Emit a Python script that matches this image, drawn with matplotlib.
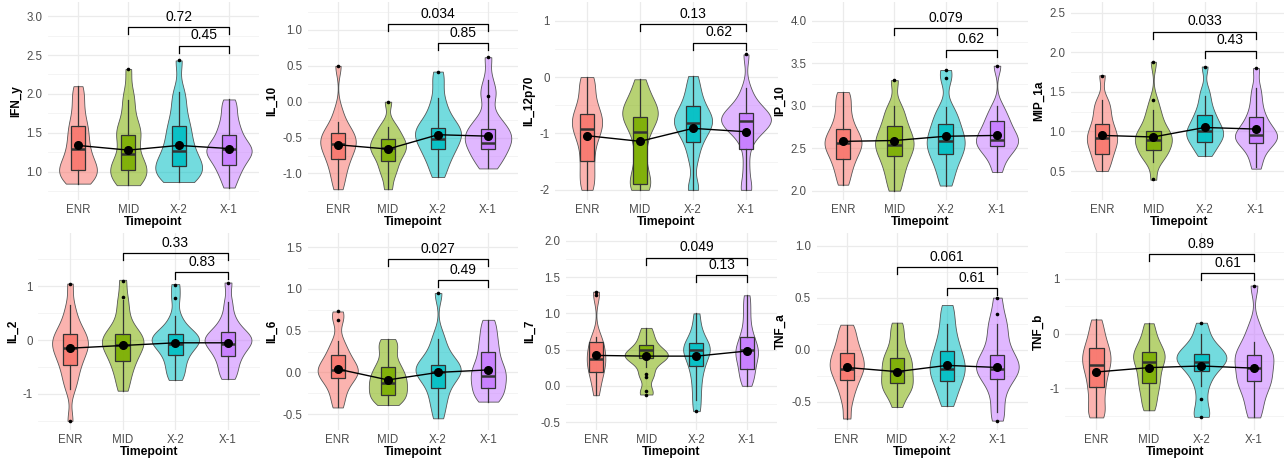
import numpy as np
import matplotlib
matplotlib.use('Agg')
import matplotlib.pyplot as plt
from matplotlib.colors import to_rgba

plt.rcParams['font.family'] = ['Liberation Sans', 'DejaVu Sans']
plt.rcParams['axes.unicode_minus'] = False

# ---------------- data ----------------
groups = ['ENR', 'MID', 'X-2', 'X-1']
colors = ['#F8766D', '#7CAE00', '#00BFC4', '#C77CFF']
panel_names = ['IFN_y', 'IL_10', 'IL_12p70', 'IP_10', 'MIP_1a',
               'IL_2', 'IL_6', 'IL_7', 'TNF_a', 'TNF_b']

# hand-estimated sample values (shape of each violin)
ifn_y_vals = [
    [0.85, 0.88, 0.92, 0.96, 1.0, 1.03, 1.06, 1.1, 1.15, 1.2, 1.27, 1.33, 1.4, 1.48, 1.55, 1.62, 1.72, 1.85, 1.98, 2.1],
    [0.83, 0.87, 0.92, 0.96, 1.0, 1.04, 1.08, 1.12, 1.18, 1.25, 1.38, 1.45, 1.5, 1.55, 1.62, 1.75, 1.9, 2.02, 2.32],
    [0.87, 0.9, 0.94, 0.98, 1.02, 1.05, 1.08, 1.12, 1.17, 1.22, 1.28, 1.35, 1.42, 1.5, 1.58, 1.65, 1.78, 1.92, 2.05, 2.43],
    [0.8, 0.92, 1.0, 1.06, 1.12, 1.17, 1.21, 1.24, 1.27, 1.3, 1.33, 1.37, 1.42, 1.48, 1.55, 1.62, 1.72, 1.83, 1.93]]
il_10_vals = [
    [-1.22, -1.08, -0.97, -0.88, -0.8, -0.74, -0.68, -0.63, -0.59, -0.55, -0.51, -0.47, -0.42, -0.36, -0.28, -0.12, 0.5],
    [-1.22, -1.05, -0.95, -0.88, -0.8, -0.74, -0.7, -0.66, -0.62, -0.58, -0.55, -0.5, -0.44, -0.38, -0.3, 0.0],
    [-1.05, -0.92, -0.82, -0.74, -0.68, -0.62, -0.57, -0.52, -0.48, -0.44, -0.4, -0.36, -0.32, -0.26, -0.18, -0.08, 0.05, 0.25, 0.42],
    [-0.93, -0.85, -0.78, -0.72, -0.67, -0.62, -0.57, -0.53, -0.5, -0.46, -0.42, -0.38, -0.33, -0.26, -0.18, 0.08, 0.12, 0.3, 0.62]]
il_12p70_vals = [
    [-2.0, -1.9, -1.75, -1.6, -1.45, -1.3, -1.15, -1.05, -0.97, -0.9, -0.84, -0.78, -0.72, -0.66, -0.58, -0.48, -0.35, -0.2, -0.05, 0.0],
    [-2.0, -1.95, -1.88, -1.78, -1.6, -1.4, -1.2, -1.0, -0.9, -0.8, -0.73, -0.68, -0.63, -0.58, -0.52, -0.45, -0.35, -0.2, -0.04],
    [-2.0, -1.95, -1.5, -1.3, -1.15, -1.05, -0.97, -0.9, -0.85, -0.8, -0.76, -0.72, -0.67, -0.6, -0.52, -0.42, -0.3, -0.15, 0.02],
    [-2.0, -1.95, -1.6, -1.25, -1.05, -0.95, -0.9, -0.86, -0.82, -0.79, -0.76, -0.73, -0.7, -0.67, -0.63, -0.58, -0.5, -0.38, -0.2, 0.4]]
ip_10_vals = [
    [2.07, 2.18, 2.27, 2.34, 2.4, 2.45, 2.5, 2.53, 2.56, 2.6, 2.64, 2.68, 2.73, 2.8, 2.88, 2.98, 3.08, 3.16],
    [2.0, 2.12, 2.22, 2.3, 2.37, 2.43, 2.48, 2.52, 2.56, 2.6, 2.65, 2.7, 2.76, 2.83, 2.92, 3.0, 3.3],
    [2.06, 2.18, 2.28, 2.36, 2.42, 2.47, 2.52, 2.56, 2.6, 2.65, 2.7, 2.76, 2.83, 2.9, 2.98, 3.32, 3.42],
    [2.22, 2.35, 2.43, 2.48, 2.52, 2.55, 2.58, 2.61, 2.64, 2.68, 2.73, 2.78, 2.84, 2.9, 3.0, 3.47]]
mip_1a_vals = [
    [0.5, 0.58, 0.66, 0.72, 0.78, 0.83, 0.87, 0.91, 0.95, 0.99, 1.04, 1.1, 1.17, 1.25, 1.33, 1.4, 1.71],
    [0.39, 0.62, 0.68, 0.72, 0.76, 0.8, 0.85, 0.88, 0.91, 0.94, 0.97, 1.0, 1.05, 1.12, 1.2, 1.27, 1.4, 1.88],
    [0.69, 0.76, 0.82, 0.87, 0.91, 0.94, 0.97, 1.0, 1.03, 1.07, 1.12, 1.17, 1.22, 1.3, 1.4, 1.52, 1.82],
    [0.53, 0.65, 0.75, 0.82, 0.86, 0.89, 0.92, 0.94, 0.96, 0.99, 1.03, 1.08, 1.14, 1.2, 1.3, 1.42, 1.55, 1.8]]
il_2_vals = [
    [-1.5, -0.9, -0.75, -0.6, -0.48, -0.38, -0.3, -0.22, -0.15, -0.1, -0.05, 0.0, 0.06, 0.12, 0.2, 0.3, 0.45, 0.65, 1.05],
    [-0.94, -0.75, -0.6, -0.48, -0.38, -0.3, -0.22, -0.15, -0.1, -0.05, 0.0, 0.05, 0.1, 0.16, 0.25, 0.4, 0.6, 0.8, 1.12],
    [-0.74, -0.62, -0.5, -0.38, -0.28, -0.2, -0.12, -0.07, -0.03, 0.0, 0.04, 0.08, 0.12, 0.18, 0.28, 0.45, 0.78, 1.04],
    [-0.72, -0.6, -0.48, -0.36, -0.28, -0.2, -0.13, -0.07, -0.03, 0.0, 0.04, 0.08, 0.13, 0.2, 0.3, 0.45, 0.7, 1.07]]
il_6_vals = [
    [-0.42, -0.3, -0.2, -0.12, -0.07, -0.03, 0.0, 0.03, 0.06, 0.1, 0.15, 0.21, 0.28, 0.38, 0.63, 0.73],
    [-0.39, -0.34, -0.3, -0.26, -0.22, -0.18, -0.14, -0.1, -0.06, -0.02, 0.03, 0.08, 0.15, 0.25, 0.33, 0.4],
    [-0.55, -0.4, -0.3, -0.2, -0.12, -0.06, -0.02, 0.01, 0.04, 0.07, 0.1, 0.15, 0.22, 0.32, 0.45, 0.95],
    [-0.35, -0.3, -0.24, -0.19, -0.14, -0.09, -0.04, 0.0, 0.05, 0.1, 0.17, 0.25, 0.33, 0.42, 0.52, 0.63]]
il_7_vals = [
    [-0.13, 0.0, 0.1, 0.17, 0.22, 0.28, 0.33, 0.37, 0.41, 0.46, 0.52, 0.58, 0.63, 0.7, 1.25, 1.3],
    [-0.12, -0.07, 0.12, 0.17, 0.28, 0.34, 0.38, 0.4, 0.42, 0.44, 0.46, 0.5, 0.55, 0.62, 0.7, 0.8],
    [-0.35, -0.2, -0.05, 0.08, 0.2, 0.28, 0.35, 0.42, 0.47, 0.5, 0.53, 0.57, 0.62, 0.7, 0.82, 1.0],
    [0.0, 0.08, 0.15, 0.22, 0.28, 0.35, 0.4, 0.44, 0.48, 0.52, 0.57, 0.63, 0.7, 0.8, 0.95, 1.1, 1.25]]
tnf_a_vals = [
    [-0.66, -0.5, -0.4, -0.33, -0.28, -0.23, -0.19, -0.16, -0.13, -0.09, -0.05, -0.01, 0.04, 0.1, 0.17, 0.24],
    [-0.55, -0.45, -0.4, -0.36, -0.33, -0.29, -0.25, -0.21, -0.17, -0.13, -0.09, -0.05, 0.0, 0.08, 0.17, 0.26],
    [-0.54, -0.44, -0.37, -0.31, -0.26, -0.22, -0.18, -0.14, -0.1, -0.05, 0.0, 0.06, 0.13, 0.22, 0.32, 0.43],
    [-0.68, -0.58, -0.45, -0.35, -0.28, -0.24, -0.21, -0.18, -0.15, -0.12, -0.08, -0.04, 0.02, 0.1, 0.18, 0.25, 0.34, 0.5]]
tnf_b_vals = [
    [-1.53, -1.45, -1.3, -1.12, -0.98, -0.85, -0.72, -0.62, -0.54, -0.46, -0.38, -0.3, -0.2, -0.08, 0.08, 0.26],
    [-1.4, -1.25, -1.1, -0.98, -0.88, -0.78, -0.68, -0.58, -0.5, -0.44, -0.38, -0.32, -0.24, -0.14, 0.0, 0.19],
    [-1.52, -1.45, -1.2, -0.95, -0.8, -0.68, -0.6, -0.54, -0.49, -0.45, -0.41, -0.37, -0.32, -0.25, -0.15, 0.0, 0.2],
    [-1.53, -1.35, -1.18, -1.02, -0.92, -0.86, -0.78, -0.68, -0.58, -0.5, -0.43, -0.37, -0.3, -0.2, -0.05, 0.15, 0.88]]

# box statistics: (whisker low, q1, median, q3, whisker high)
ifn_y_box = [(0.85, 1.03, 1.29, 1.59, 2.1), (0.83, 1.02, 1.23, 1.47, 1.92),
             (0.87, 1.08, 1.27, 1.59, 2.03), (0.8, 1.09, 1.29, 1.47, 1.93)]
il_10_box = [(-1.22, -0.8, -0.59, -0.44, -0.28), (-1.22, -0.82, -0.65, -0.52, -0.35),
             (-1.05, -0.66, -0.52, -0.36, 0.05), (-0.93, -0.66, -0.57, -0.38, 0.3)]
il_12p70_box = [(-2.0, -1.49, -0.92, -0.66, 0.0), (-2.0, -1.9, -0.97, -0.70, -0.04),
                (-2.0, -1.15, -0.82, -0.51, 0.02), (-2.0, -1.28, -0.78, -0.64, -0.2)]
ip_10_box = [(2.07, 2.37, 2.56, 2.73, 3.16), (2.0, 2.41, 2.54, 2.76, 3.0),
             (2.06, 2.43, 2.58, 2.78, 2.98), (2.22, 2.53, 2.6, 2.82, 3.0)]
mip_1a_box = [(0.5, 0.72, 0.92, 1.1, 1.4), (0.62, 0.76, 0.89, 1.0, 1.27),
              (0.69, 0.87, 1.0, 1.21, 1.45), (0.55, 0.85, 0.95, 1.18, 1.55)]
il_2_box = [(-0.9, -0.46, -0.15, 0.11, 0.65), (-0.94, -0.39, -0.1, 0.11, 0.75),
            (-0.74, -0.28, -0.07, 0.12, 0.45), (-0.72, -0.3, -0.07, 0.15, 0.7)]
il_6_box = [(-0.42, -0.07, 0.03, 0.21, 0.38), (-0.39, -0.27, -0.13, 0.07, 0.4),
            (-0.55, -0.19, 0.0, 0.09, 0.4), (-0.35, -0.19, -0.04, 0.25, 0.63)]
il_7_box = [(-0.13, 0.19, 0.37, 0.61, 0.67), (0.26, 0.39, 0.49, 0.56, 0.8),
            (-0.2, 0.28, 0.5, 0.59, 1.0), (0.0, 0.23, 0.5, 0.68, 1.25)]
tnf_a_box = [(-0.66, -0.29, -0.18, -0.03, 0.24), (-0.55, -0.32, -0.2, -0.08, 0.26),
             (-0.54, -0.3, -0.18, -0.01, 0.25), (-0.6, -0.28, -0.18, -0.05, 0.25)]
tnf_b_box = [(-1.53, -0.98, -0.57, -0.27, 0.26), (-1.4, -0.9, -0.51, -0.34, 0.19),
             (-0.95, -0.68, -0.51, -0.37, 0.0), (-1.53, -0.86, -0.63, -0.39, -0.15)]

# outlier points
ifn_y_out = [[], [2.32], [2.43], []]
il_10_out = [[0.5], [0.0], [0.42], [0.62, 0.08]]
il_12p70_out = [[], [], [], [0.4]]
ip_10_out = [[], [3.3], [3.42, 3.32], [3.47]]
mip_1a_out = [[1.7], [1.88, 1.4, 0.4], [1.82], [1.8]]
il_2_out = [[1.05, -1.5], [1.1, 0.8], [1.02, 0.78], [1.07]]
il_6_out = [[0.73, 0.63], [], [0.95], []]
il_7_out = [[1.3, 1.25], [0.17, 0.12, -0.07, -0.12], [-0.35], []]
tnf_a_out = [[], [], [], [0.5, 0.34, -0.68]]
tnf_b_out = [[], [], [-1.2, -1.52, 0.2], [0.88]]

# group means
ifn_y_mean = [1.34, 1.28, 1.34, 1.30]
il_10_mean = [-0.60, -0.66, -0.46, -0.48]
il_12p70_mean = [-1.04, -1.14, -0.91, -0.97]
ip_10_mean = [2.58, 2.59, 2.64, 2.65]
mip_1a_mean = [0.95, 0.93, 1.05, 1.03]
il_2_mean = [-0.15, -0.10, -0.05, -0.05]
il_6_mean = [0.04, -0.09, 0.0, 0.03]
il_7_mean = [0.42, 0.41, 0.41, 0.48]
tnf_a_mean = [-0.17, -0.21, -0.15, -0.17]
tnf_b_mean = [-0.70, -0.62, -0.59, -0.63]

# p-values: (MID vs X-1, X-2 vs X-1)
ifn_y_p = ['0.72', '0.45']
il_10_p = ['0.034', '0.85']
il_12p70_p = ['0.13', '0.62']
ip_10_p = ['0.079', '0.62']
mip_1a_p = ['0.033', '0.43']
il_2_p = ['0.33', '0.83']
il_6_p = ['0.027', '0.49']
il_7_p = ['0.049', '0.13']
tnf_a_p = ['0.061', '0.61']
tnf_b_p = ['0.89', '0.61']

all_vals = [ifn_y_vals, il_10_vals, il_12p70_vals, ip_10_vals, mip_1a_vals,
            il_2_vals, il_6_vals, il_7_vals, tnf_a_vals, tnf_b_vals]
all_box = [ifn_y_box, il_10_box, il_12p70_box, ip_10_box, mip_1a_box,
           il_2_box, il_6_box, il_7_box, tnf_a_box, tnf_b_box]
all_out = [ifn_y_out, il_10_out, il_12p70_out, ip_10_out, mip_1a_out,
           il_2_out, il_6_out, il_7_out, tnf_a_out, tnf_b_out]
all_mean = [ifn_y_mean, il_10_mean, il_12p70_mean, ip_10_mean, mip_1a_mean,
            il_2_mean, il_6_mean, il_7_mean, tnf_a_mean, tnf_b_mean]
all_p = [ifn_y_p, il_10_p, il_12p70_p, ip_10_p, mip_1a_p,
         il_2_p, il_6_p, il_7_p, tnf_a_p, tnf_b_p]

# ---------------- layout / style ----------------
W, H = 1284, 458
violin_widths = [[0.75, 0.72, 0.93, 0.90], [0.71, 0.72, 0.92, 0.93], [0.57, 0.67, 0.72, 0.94],
                 [0.72, 0.75, 0.74, 0.82], [0.59, 0.72, 0.72, 0.82], [0.68, 0.79, 0.90, 0.89],
                 [0.80, 0.76, 0.90, 0.70], [0.37, 0.86, 0.53, 0.45], [0.68, 0.63, 0.70, 0.85],
                 [0.54, 0.60, 0.95, 0.74]]
bracket_y = [(2.86, 2.62), (1.08, 0.82), (0.94, 0.61), (3.91, 3.66), (2.26, 2.02),
             (1.61, 1.26), (1.36, 1.11), (1.77, 1.53), (0.79, 0.59), (1.46, 1.11)]
ylims = [(0.64, 3.18), (-1.37, 1.39), (-2.18, 1.33), (1.89, 4.22), (0.134, 2.635),
         (-1.67, 1.99), (-0.69, 1.67), (-0.61, 2.11), (-0.77, 1.12), (-1.76, 1.84)]
yticks = [[1.0, 1.5, 2.0, 2.5, 3.0], [-1.0, -0.5, 0.0, 0.5, 1.0], [-2, -1, 0, 1],
          [2.0, 2.5, 3.0, 3.5, 4.0], [0.5, 1.0, 1.5, 2.0, 2.5], [-1, 0, 1],
          [-0.5, 0.0, 0.5, 1.0, 1.5], [-0.5, 0.0, 0.5, 1.0, 1.5, 2.0],
          [-0.5, 0.0, 0.5, 1.0], [-1, 0, 1]]
ydec = [1, 1, 0, 1, 1, 0, 1, 1, 1, 0]
xpix = [(47.8, 259.2), (308, 518), (555.2, 777.8), (812.2, 1027.8), (1071.2, 1286.8),
        (38.4, 259.6), (307.6, 518.4), (565.9, 776.8), (816.6, 1027.5), (1064.8, 1285.5)]
ypix = [(2, 200)] * 5 + [(233, 430)] * 5

fig = plt.figure(figsize=(W / 100, H / 100), dpi=100)
fig.patch.set_facecolor('white')
pos = np.arange(1, 5)

for i in range(10):
    x0, x1 = xpix[i]
    yt, yb = ypix[i]
    ax = fig.add_axes([x0 / W, 1 - yb / H, (x1 - x0) / W, (yb - yt) / H])
    ax.set_xlim(0.4, 4.6)
    ax.set_ylim(*ylims[i])
    for s in ax.spines.values():
        s.set_visible(False)

    # grid
    ymaj = yticks[i]
    step = ymaj[1] - ymaj[0]
    minors = [ymaj[0] - step / 2] + [t + step / 2 for t in ymaj]
    minors = [m for m in minors if ylims[i][0] <= m <= ylims[i][1]]
    for m in minors:
        ax.axhline(m, color='#F3F3F3', lw=0.6, zorder=0)
    for t in ymaj:
        ax.axhline(t, color='#EBEBEB', lw=0.9, zorder=0)
    for p in pos:
        ax.axvline(p, color='#EBEBEB', lw=0.9, zorder=0)

    # violins
    vp = ax.violinplot(all_vals[i], positions=pos, widths=violin_widths[i],
                       showextrema=False, bw_method=0.32)
    for b, c in zip(vp['bodies'], colors):
        b.set_alpha(None)
        b.set_facecolor(to_rgba(c, 0.55))
        b.set_edgecolor('#555555')
        b.set_linewidth(0.6)
        b.set_zorder(2)

    # boxes
    stats = []
    for (lo, q1, med, q3, hi), fl in zip(all_box[i], all_out[i]):
        stats.append(dict(whislo=lo, q1=q1, med=med, q3=q3, whishi=hi, fliers=fl))
    bp = ax.bxp(stats, positions=pos, widths=0.28, patch_artist=True, showcaps=False,
                boxprops=dict(edgecolor='#333333', linewidth=0.9),
                whiskerprops=dict(color='#333333', linewidth=0.9),
                medianprops=dict(color='#333333', linewidth=1.8),
                flierprops=dict(marker='o', markersize=2.6, markerfacecolor='black',
                                markeredgecolor='none'),
                zorder=3)
    for patch, c in zip(bp['boxes'], colors):
        patch.set_facecolor(to_rgba(c, 0.9))

    # means
    ax.plot(pos, all_mean[i], color='black', lw=1.0, marker='o', ms=5.5, zorder=5)

    # brackets
    rng = ylims[i][1] - ylims[i][0]
    tip = 0.035 * rng
    for (a, b2), h, ptxt in zip([(2, 4), (3, 4)], bracket_y[i], all_p[i]):
        ax.plot([a, a, b2, b2], [h - tip, h, h, h - tip], color='black', lw=0.9, zorder=6)
        ax.text((a + b2) / 2, h + 0.052 * rng, ptxt, ha='center', va='center',
                fontsize=10, color='black')

    ax.set_xticks(pos)
    ax.set_xticklabels(groups)
    ax.set_yticks(ymaj)
    ax.set_yticklabels([f'{t:.{ydec[i]}f}' for t in ymaj])
    ax.tick_params(axis='both', length=0, labelsize=8.3, labelcolor='#4D4D4D')
    ax.tick_params(axis='x', pad=3)
    ax.tick_params(axis='y', pad=4)
    ax.set_xlabel('Timepoint', fontsize=8.8, fontweight='bold', labelpad=0)
    ax.set_ylabel(panel_names[i], fontsize=8.5, fontweight='bold', labelpad=3)

fig.savefig('out.png', dpi=100, facecolor='white')
